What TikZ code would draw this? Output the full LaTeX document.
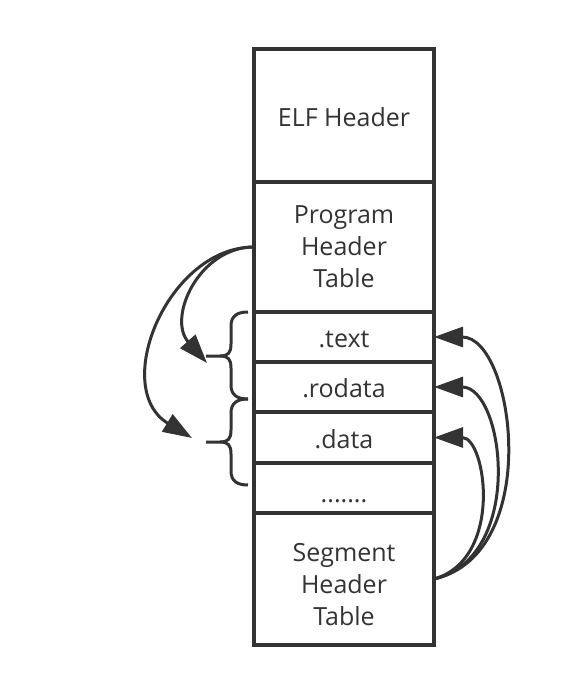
\documentclass[tikz,border=0pt]{standalone}
\usepackage{fontspec}
\setmainfont{Open Sans}
\definecolor{Ink}{rgb}{0.2,0.2,0.2}
\usetikzlibrary{arrows.meta, positioning}

\begin{document}
\begin{tikzpicture}[x=1pt, y=-1pt, color=Ink, line width=3.4pt,
    cell/.style={draw, minimum width=180pt, inner sep=0pt, outer sep=0pt,
      align=center, font=\fontsize{25}{32}\selectfont},
    row/.style={cell, minimum height=50pt, text height=21pt, text depth=0pt},
    link/.style={line width=3pt, -{Triangle[length=29pt, width=20pt]}}]
  \useasboundingbox (0,0) rectangle (582,696);
  % the file, top to bottom
  \node[cell, minimum height=133pt, text height=22pt, text depth=0pt] (elf) at (344,115.5) {ELF Header};
  \node[cell, minimum height=130pt, below=0pt of elf] (pht) {Program\\Header\\Table};
  \node[row, below=0pt of pht] (text) {.text};
  \node[row, below=0pt of text] (rodata) {.rodata};
  \node[row, minimum height=51pt, below=0pt of rodata] (data) {.data};
  \node[row, text height=28pt, below=0pt of data] (dots) {.......};
  \node[cell, minimum height=132pt, below=0pt of dots] (sht) {\rule{0pt}{30pt}Segment\\Header\\Table};

  % braces on the left
  \foreach \t/\m/\b in {312/356/399, 399/442/485} {
    \draw[line width=3pt] (248,\t) .. controls (237,\t) and (231,\t+4) .. (231,\t+14) -- (231,\m-12)
      .. controls (231,\m-3) and (228,\m) .. (220,\m) -- (206,\m);
    \draw[line width=3pt] (248,\b) .. controls (237,\b) and (231,\b-4) .. (231,\b-14) -- (231,\m+12)
      .. controls (231,\m+3) and (228,\m) .. (220,\m);
  }
  \coordinate (hitA) at (207,363);
  \coordinate (hitB) at (192,438);
  \draw[link] (pht.west) .. controls +(-55,0) and +(-40,-45) .. (hitA);
  \draw[link] (pht.west) .. controls +(-86,0) and +(-82,-50) .. (hitB);

  % segment header table points back up
  \draw[link] (sht.east) .. controls +(110,-25) and +(80,0) .. (text.east);
  \draw[link] (sht.east) .. controls +(92,-22) and +(70,0) .. (rodata.east);
  \draw[link] (sht.east) .. controls +(70,-20) and +(52,0) .. (data.east);
\end{tikzpicture}
\end{document}
